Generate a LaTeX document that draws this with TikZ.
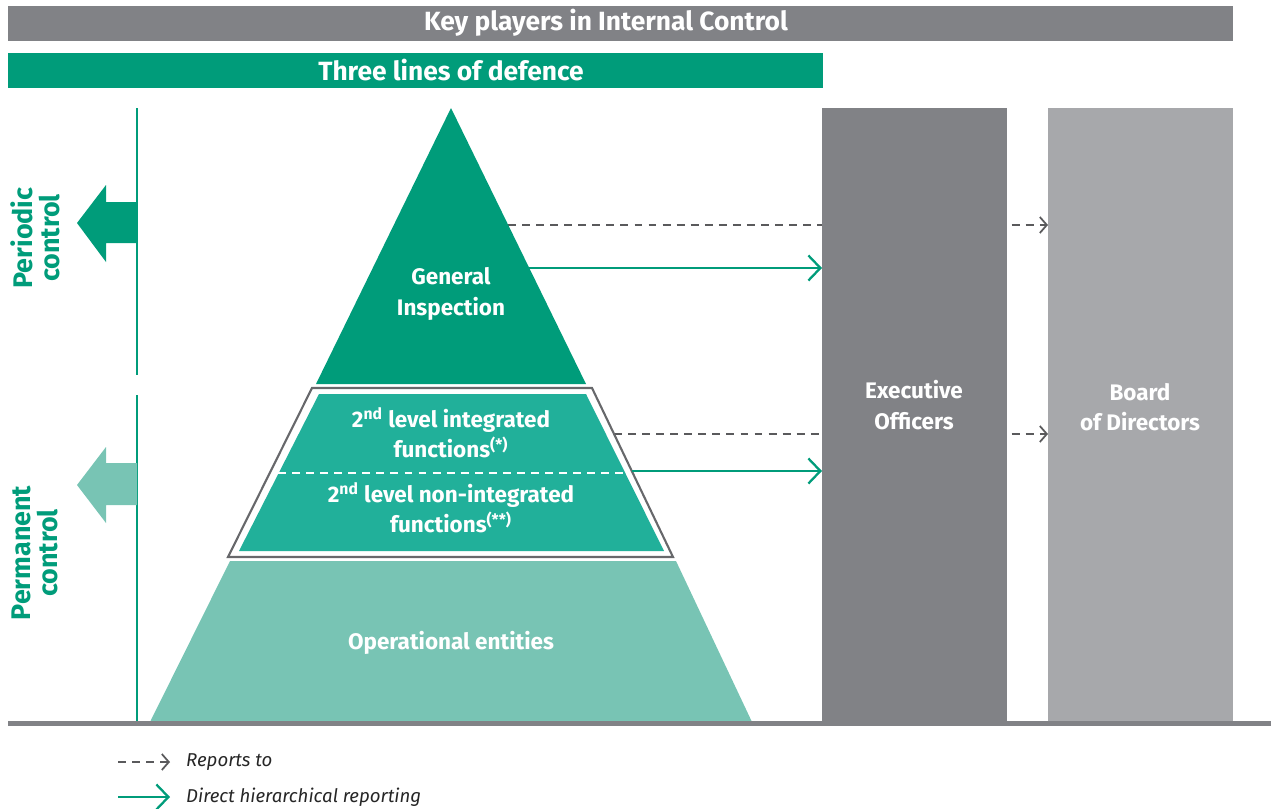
\documentclass[tikz,border=0pt]{standalone}
\usepackage{fontspec}
\setmainfont{Fira Sans}
\usetikzlibrary{arrows.meta}

\definecolor{keygray}{HTML}{818286}
\definecolor{boardgray}{HTML}{A7A8AB}
\definecolor{defgreen}{HTML}{009C7A}
\definecolor{midgreen}{HTML}{21B09A}
\definecolor{lightgreen}{HTML}{78C4B4}
\definecolor{dashgray}{HTML}{5A5A5C}

\begin{document}
\begin{tikzpicture}[x=0.02cm, y=-0.02cm,
  banner/.style = {text=white, font=\bfseries\fontsize{15}{17}\selectfont},
  column/.style = {anchor=north west, inner sep=0, minimum width=3.7cm, minimum height=12.28cm},
  label/.style = {align=center, text=white, font=\bfseries\fontsize{12.8}{17.2}\selectfont},
  side/.style = {align=center, rotate=90, text=defgreen, font=\bfseries\fontsize{15.3}{15.5}\selectfont},
  reports/.style = {dashgray, line width=1pt, dash pattern=on 4.5pt off 3.5pt},
  direct/.style = {defgreen, line width=1.3pt},
  reptip/.style = {-{Straight Barb[length=1.4mm, width=3.2mm, line width=1pt]}},
  dirtip/.style = {-{Straight Barb[length=2.4mm, width=5mm, line width=1.3pt]}},
  legend/.style = {anchor=west, text=black!85, font=\itshape\fontsize{10.6}{12}\selectfont}]

  \useasboundingbox (0,0) rectangle (1271,808);

  \fill[keygray] (8,6) rectangle (1233,41);
  \node[banner] (key) at (606,23) {Key players in Internal Control};
  \fill[defgreen] (8,53) rectangle (823,88);
  \node[banner] (lines) at (451,70) {Three lines of defence};

  \coordinate (gi-rep) at (508,225);
  \coordinate (gi-dir) at (529,268);
  \coordinate (sl-rep) at (614,434);
  \coordinate (sl-dir) at (632,471);

  \draw[reports] (gi-rep) -- (822,225);
  \draw[reports] (sl-rep) -- (822,434);

  \fill[defgreen] (451,108) -- (586,384) -- (316,384) -- cycle;
  \node[label] (inspection) at (451,294) {General\\Inspection};

  \draw[keygray!80!black, line width=1.2pt, fill=white] (312,388) -- (592,388) -- (673,557) -- (228,557) -- cycle;
  \fill[midgreen] (319,394) -- (586,394) -- (664,551) -- (239,551) -- cycle;
  \draw[white, line width=1pt, dash pattern=on 4.5pt off 3.5pt] (278,473) -- (625,473);
  \node[label] (integrated) at (451,433) {2\textsuperscript{nd} level integrated\\functions\textsuperscript{(*)}};
  \node[label] (nonintegrated) at (451,508) {2\textsuperscript{nd} level non-integrated\\functions\textsuperscript{(**)}};

  \fill[lightgreen] (230,561) -- (676,561) -- (752,722) -- (150,722) -- cycle;
  \node[label] (operational) at (451,643) {Operational entities};

  \node[column, fill=keygray] (exec) at (822,108) {};
  \node[column, fill=boardgray] (board) at (1048,108) {};
  \node[label] (officers) at (914,405) {Executive\\Officers};
  \node[label] (directors) at (1140,407) {Board\\of Directors};

  \draw[reports, reptip] ([xshift=0.08cm]exec.east |- gi-rep) -- (board.west |- gi-rep);
  \draw[reports, reptip] ([xshift=0.08cm]exec.east |- sl-rep) -- (board.west |- sl-rep);
  \draw[direct, dirtip] (gi-dir) -- (exec.west |- gi-dir);
  \draw[direct, dirtip] (sl-dir) -- (exec.west |- sl-dir);

  \draw[keygray, line width=0.1cm] (8,723) -- (1271,723);

  \draw[defgreen, line width=1.4pt] (137,108) -- (137,375);
  \draw[defgreen, line width=1.4pt] (137,395) -- (137,721);
  \fill[defgreen] (137,202) -- (106,202) -- (106,185) -- (77,223) -- (106,262) -- (106,243) -- (137,243) -- cycle;
  \fill[lightgreen] (137,463) -- (106,463) -- (106,447) -- (77,485) -- (106,523) -- (106,505) -- (137,505) -- cycle;
  \node[side] (periodic) at (35,238) {Periodic\\control};
  \node[side] (permanent) at (35,553) {Permanent\\control};

  \coordinate (rep-a) at (118,762);
  \coordinate (rep-b) at (170,762);
  \coordinate (dir-a) at (118,797);
  \coordinate (dir-b) at (170,797);
  \draw[reports, reptip] (rep-a) -- (rep-b);
  \draw[direct, dirtip] (dir-a) -- (dir-b);
  \node[legend] (reportsto) at (180,762) {Reports to};
  \node[legend] (hierarchical) at (180,797) {Direct hierarchical reporting};
\end{tikzpicture}
\end{document}
